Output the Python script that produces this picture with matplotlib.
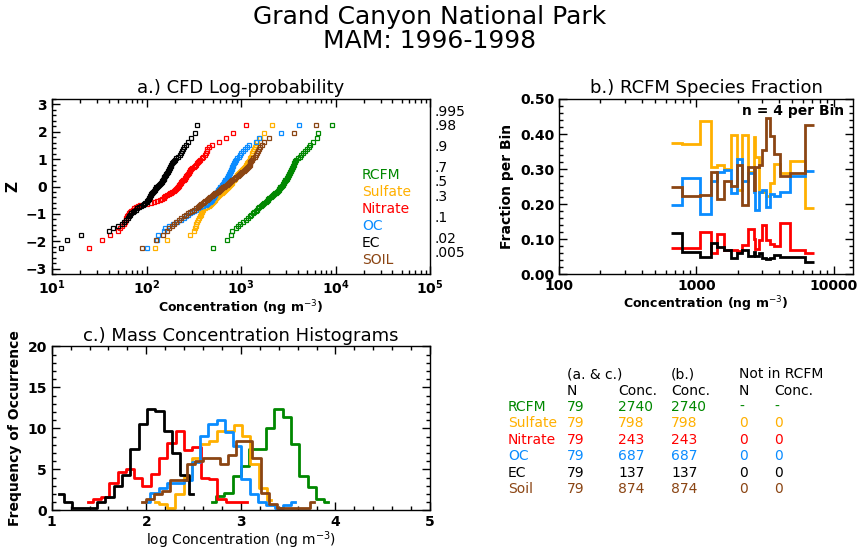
import matplotlib
matplotlib.use('Agg')
import matplotlib.pyplot as plt
import numpy as np
from statistics import NormalDist

plt.rcParams['font.family'] = ['DejaVu Sans']

species = ['RCFM', 'Sulfate', 'Nitrate', 'OC', 'EC', 'SOIL']
colors = {'RCFM': '#008800', 'Sulfate': '#FFB000', 'Nitrate': '#FF0000',
          'OC': '#0A8CFF', 'EC': '#000000', 'SOIL': '#8B4513'}

# ---- a.) sorted log10 concentrations (ng m-3), 79 samples each
log_rcfm = [2.70, 2.85, 2.89, 2.91, 2.95, 2.97, 2.99, 3.02, 3.05, 3.07, 3.09, 3.11, 3.125, 3.14,
            3.155, 3.17, 3.18, 3.195, 3.21, 3.22, 3.23, 3.245, 3.26, 3.27, 3.285, 3.29, 3.30,
            3.315, 3.33, 3.34, 3.35, 3.36, 3.37, 3.38, 3.39, 3.40, 3.405, 3.41, 3.415, 3.42,
            3.43, 3.44, 3.445, 3.45, 3.46, 3.465, 3.47, 3.48, 3.485, 3.49, 3.495, 3.50, 3.505,
            3.51, 3.515, 3.52, 3.525, 3.53, 3.535, 3.54, 3.55, 3.555, 3.56, 3.565, 3.57, 3.575,
            3.58, 3.60, 3.62, 3.64, 3.66, 3.68, 3.70, 3.72, 3.73, 3.76, 3.80, 3.82, 3.96]
log_sulfate = [2.085, 2.22, 2.46, 2.505, 2.51, 2.52, 2.525, 2.53, 2.54, 2.56, 2.57, 2.575, 2.58,
               2.585, 2.59, 2.60, 2.62, 2.64, 2.66, 2.67, 2.68, 2.69, 2.70, 2.71, 2.72, 2.73,
               2.74, 2.75, 2.76, 2.77, 2.78, 2.79, 2.80, 2.81, 2.82, 2.83, 2.84, 2.85, 2.86,
               2.865, 2.87, 2.88, 2.89, 2.90, 2.905, 2.91, 2.92, 2.93, 2.935, 2.94, 2.95, 2.955,
               2.96, 2.97, 2.98, 2.99, 3.00, 3.01, 3.02, 3.03, 3.04, 3.05, 3.055, 3.06, 3.07,
               3.08, 3.09, 3.10, 3.11, 3.115, 3.12, 3.13, 3.14, 3.15, 3.16, 3.17, 3.20, 3.24, 3.33]
log_nitrate = [1.39, 1.525, 1.61, 1.70, 1.72, 1.74, 1.76, 1.77, 1.78, 1.785, 1.79, 1.80, 1.82,
               1.83, 1.84, 1.855, 1.87, 1.89, 1.91, 1.93, 2.00, 2.05, 2.08, 2.11, 2.14, 2.16,
               2.18, 2.19, 2.20, 2.22, 2.24, 2.25, 2.26, 2.27, 2.29, 2.30, 2.31, 2.32, 2.33,
               2.335, 2.34, 2.345, 2.35, 2.36, 2.37, 2.38, 2.39, 2.40, 2.405, 2.41, 2.415, 2.42,
               2.43, 2.44, 2.445, 2.45, 2.46, 2.465, 2.475, 2.485, 2.50, 2.51, 2.52, 2.535, 2.55,
               2.56, 2.57, 2.585, 2.60, 2.615, 2.625, 2.635, 2.645, 2.66, 2.69, 2.77, 2.84, 2.92, 3.05]
log_oc = [2.00, 2.11, 2.12, 2.18, 2.20, 2.24, 2.28, 2.32, 2.36, 2.40, 2.42, 2.44, 2.46, 2.48,
          2.50, 2.52, 2.54, 2.57, 2.60, 2.63, 2.64, 2.655, 2.67, 2.68, 2.69, 2.695, 2.70, 2.71,
          2.715, 2.72, 2.73, 2.735, 2.74, 2.75, 2.755, 2.76, 2.77, 2.775, 2.78, 2.79, 2.795,
          2.80, 2.81, 2.815, 2.82, 2.83, 2.835, 2.84, 2.85, 2.855, 2.86, 2.865, 2.87, 2.875,
          2.88, 2.885, 2.89, 2.895, 2.90, 2.905, 2.91, 2.915, 2.92, 2.93, 2.935, 2.94, 2.95,
          2.96, 2.975, 2.99, 3.00, 3.02, 3.04, 3.06, 3.08, 3.16, 3.19, 3.42, 3.61]
log_ec = [1.10, 1.16, 1.31, 1.60, 1.65, 1.70, 1.74, 1.76, 1.78, 1.80, 1.815, 1.83, 1.84, 1.855,
          1.87, 1.885, 1.90, 1.92, 1.94, 1.96, 1.97, 1.985, 2.00, 2.01, 2.02, 2.025, 2.03, 2.035,
          2.04, 2.045, 2.05, 2.055, 2.06, 2.065, 2.075, 2.085, 2.09, 2.10, 2.105, 2.11, 2.12,
          2.13, 2.14, 2.15, 2.16, 2.165, 2.17, 2.175, 2.18, 2.185, 2.19, 2.20, 2.205, 2.21, 2.22,
          2.225, 2.23, 2.235, 2.24, 2.245, 2.25, 2.255, 2.26, 2.27, 2.28, 2.29, 2.30, 2.31, 2.33,
          2.35, 2.36, 2.38, 2.39, 2.40, 2.42, 2.44, 2.47, 2.51, 2.53]
log_soil = [1.95, 2.10, 2.17, 2.22, 2.24, 2.27, 2.29, 2.31, 2.34, 2.37, 2.40, 2.42, 2.44, 2.46,
            2.48, 2.50, 2.52, 2.54, 2.555, 2.57, 2.58, 2.595, 2.61, 2.62, 2.635, 2.65, 2.66,
            2.675, 2.69, 2.70, 2.715, 2.73, 2.74, 2.755, 2.77, 2.78, 2.79, 2.80, 2.81, 2.825,
            2.835, 2.85, 2.86, 2.87, 2.88, 2.89, 2.90, 2.91, 2.925, 2.94, 2.95, 2.965, 2.975,
            2.99, 3.00, 3.015, 3.03, 3.04, 3.05, 3.06, 3.07, 3.08, 3.09, 3.095, 3.10, 3.11, 3.12,
            3.13, 3.145, 3.16, 3.17, 3.18, 3.19, 3.20, 3.22, 3.24, 3.30, 3.56, 3.79]
cfd_logs = {'RCFM': log_rcfm, 'Sulfate': log_sulfate, 'Nitrate': log_nitrate,
            'OC': log_oc, 'EC': log_ec, 'SOIL': log_soil}

prob_labels = ['.995', '.98', '.9', '.7', '.5', '.3', '.1', '.02', '.005']
prob_values = [0.995, 0.98, 0.9, 0.7, 0.5, 0.3, 0.1, 0.02, 0.005]

# ---- b.) species fraction of RCFM, n = 4 per bin
frac_edges = [654, 782, 1059, 1279, 1422, 1592, 1782, 1971, 2145, 2372, 2607, 2682, 2837,
              3000, 3226, 3411, 3650, 4037, 4833, 6210, 7140]
frac_sulfate = [0.374, 0.371, 0.438, 0.306, 0.313, 0.301, 0.398, 0.240, 0.398, 0.292, 0.391,
                0.334, 0.235, 0.235, 0.223, 0.260, 0.316, 0.289, 0.323, 0.190]
frac_oc = [0.199, 0.275, 0.172, 0.266, 0.292, 0.298, 0.233, 0.330, 0.266, 0.290, 0.235,
           0.185, 0.236, 0.240, 0.193, 0.229, 0.225, 0.236, 0.280, 0.296]
frac_soil = [0.249, 0.223, 0.226, 0.292, 0.214, 0.266, 0.251, 0.313, 0.197, 0.306, 0.240,
             0.305, 0.311, 0.355, 0.446, 0.396, 0.344, 0.282, 0.289, 0.427]
frac_nitrate = [0.076, 0.076, 0.122, 0.060, 0.114, 0.071, 0.071, 0.067, 0.084, 0.129, 0.101,
                0.074, 0.098, 0.142, 0.098, 0.086, 0.081, 0.147, 0.071, 0.060]
frac_ec = [0.117, 0.065, 0.050, 0.090, 0.079, 0.070, 0.046, 0.060, 0.070, 0.053, 0.065,
           0.053, 0.060, 0.046, 0.043, 0.046, 0.055, 0.050, 0.049, 0.035]

# ---- c.) histograms of log concentration: first bin centre, bin width, counts
hist_start = {'RCFM': 2.693, 'Sulfate': 2.087, 'Nitrate': 1.388, 'OC': 2.000, 'EC': 1.081, 'SOIL': 1.950}
hist_width = {'RCFM': 0.088, 'Sulfate': 0.088, 'Nitrate': 0.088, 'OC': 0.0875, 'EC': 0.0881, 'SOIL': 0.0868}
hist_counts = {
    'RCFM': [1.0, 1.74, 2.07, 4.18, 5.44, 7.43, 7.43, 10.08, 12.35, 11.4, 8.08, 4.18, 2.8, 1.37, 1.0],
    'Sulfate': [1.0, 0.73, 0.32, 1.99, 4.1, 6.4, 8.1, 8.4, 9.7, 9.7, 10.4, 9.1, 5.6, 2.76, 1.2],
    'Nitrate': [1.0, 1.38, 1.66, 3.37, 4.7, 5.05, 4.0, 3.0, 4.4, 6.4, 8.2, 9.7, 7.4, 7.75, 4.0,
                3.8, 1.37, 1.0, 1.0, 1.0],
    'OC': [0.97, 2.07, 2.76, 3.37, 3.37, 3.7, 5.9, 9.1, 10.5, 11.0, 9.5, 7.8, 3.77, 1.99, 0.97,
           0.65, 0.32, 0.65, 1.06],
    'EC': [2.0, 1.0, 0.32, 0.32, 0.32, 1.0, 1.66, 3.0, 4.3, 7.44, 10.5, 12.35, 12.15, 9.7, 7.03,
           4.3, 2.0],
    'SOIL': [1.0, 1.38, 1.95, 2.36, 3.7, 3.7, 5.7, 6.05, 6.4, 6.4, 5.6, 6.75, 8.4, 8.4, 6.4, 2.07,
             0.73, 0.32, 0.32, 0.32, 0.32, 1.0],
}

# ---- summary table
table_names = ['RCFM', 'Sulfate', 'Nitrate', 'OC', 'EC', 'Soil']
table_n = ['79', '79', '79', '79', '79', '79']
table_conc_ac = ['2740', '798', '243', '687', '137', '874']
table_conc_b = ['2740', '798', '243', '687', '137', '874']
table_not_n = ['-', '0', '0', '0', '0', '0']
table_not_conc = ['-', '0', '0', '0', '0', '0']

W, H = 860, 550
fig = plt.figure(figsize=(W / 100, H / 100), dpi=100)


def box(x0, y0, x1, y1):
    return [x0 / W, 1 - y1 / H, (x1 - x0) / W, (y1 - y0) / H]


def style(ax):
    ax.tick_params(which='both', direction='in', top=True, right=True, labelsize=10)
    ax.tick_params(which='major', length=6, width=1)
    ax.tick_params(which='minor', length=3, width=1)
    for lab in ax.get_xticklabels() + ax.get_yticklabels():
        lab.set_fontweight('bold')
    for s in ax.spines.values():
        s.set_linewidth(1)


fig.text(0.5, 1 - 17 / H, 'Grand Canyon National Park', ha='center', va='center', fontsize=18)
fig.text(0.5, 1 - 41 / H, 'MAM: 1996-1998', ha='center', va='center', fontsize=18)

# ---------------- panel a
axa = fig.add_axes(box(52, 99, 430, 274))
nd = NormalDist()
for sp in species:
    conc = 10 ** np.array(cfd_logs[sp])
    n = len(conc)
    z = [nd.inv_cdf((i + 1) / (n + 1)) for i in range(n)]
    axa.plot(conc, z, ls='none', marker='s', ms=3.2, mfc='none', mew=0.9, color=colors[sp])
axa.set_xscale('log')
axa.set_xlim(10, 1e5)
axa.set_ylim(-3.2, 3.2)
axa.set_yticks([-3, -2, -1, 0, 1, 2, 3])
axa.yaxis.set_minor_locator(matplotlib.ticker.MultipleLocator(0.2))
style(axa)
axa.tick_params(which='both', right=False)
axa.set_xlabel('Concentration (ng m$^{-3}$)', fontsize=9, fontweight='bold', labelpad=1)
axa.set_ylabel('Z', fontsize=11, fontweight='bold', labelpad=4)
axa.set_title('a.) CFD Log-probability', fontsize=13, pad=4)
for lab, p in zip(prob_labels, prob_values):
    axa.text(1.012, nd.inv_cdf(p), lab, transform=axa.get_yaxis_transform(),
             fontsize=10, va='baseline', ha='left')
for i, sp in enumerate(species):
    axa.text((362 - 52) / 378, 1 - (175 + 17 * i - 99) / 175, sp,
             transform=axa.transAxes, color=colors[sp], fontsize=10, va='center', ha='left')

# ---------------- panel b
axb = fig.add_axes(box(559, 99, 853, 274.5))
for vals, sp in [(frac_sulfate, 'Sulfate'), (frac_oc, 'OC'), (frac_nitrate, 'Nitrate'),
                 (frac_ec, 'EC'), (frac_soil, 'SOIL')]:
    axb.stairs(vals, frac_edges, baseline=None, color=colors[sp], lw=2)
axb.set_xscale('log')
axb.set_xlim(100, 13800)
axb.set_ylim(0, 0.5)
axb.set_xticks([100, 1000, 10000])
axb.set_xticklabels(['100', '1000', '10000'])
axb.yaxis.set_major_locator(matplotlib.ticker.MultipleLocator(0.1))
axb.yaxis.set_minor_locator(matplotlib.ticker.MultipleLocator(0.02))
axb.yaxis.set_major_formatter(matplotlib.ticker.FormatStrFormatter('%.2f'))
style(axb)
axb.set_xlabel('Concentration (ng m$^{-3}$)', fontsize=9, fontweight='bold', labelpad=1)
axb.set_ylabel('Fraction per Bin', fontsize=10, fontweight='bold', labelpad=4)
axb.set_title('b.) RCFM Species Fraction', fontsize=13, pad=4)
axb.text(0.97, 0.93, 'n = 4 per Bin', transform=axb.transAxes, ha='right', va='center',
         fontsize=10, fontweight='bold')

# ---------------- panel c
axc = fig.add_axes(box(51.7, 346.3, 430, 510.3))
for sp in ['RCFM', 'Sulfate', 'Nitrate', 'OC', 'EC', 'SOIL']:
    counts = hist_counts[sp]
    centers = hist_start[sp] + hist_width[sp] * np.arange(len(counts))
    axc.step(centers, counts, where='mid', color=colors[sp], lw=2)
axc.set_xlim(1, 5)
axc.set_ylim(0, 20)
axc.set_xticks([1, 2, 3, 4, 5])
axc.set_yticks([0, 5, 10, 15, 20])
axc.xaxis.set_minor_locator(matplotlib.ticker.MultipleLocator(0.2))
axc.yaxis.set_minor_locator(matplotlib.ticker.MultipleLocator(1))
style(axc)
axc.set_xlabel('log Concentration (ng m$^{-3}$)', fontsize=10, labelpad=0)
axc.set_ylabel('Frequency of Occurrence', fontsize=10, fontweight='bold', labelpad=4)
axc.set_title('c.) Mass Concentration Histograms', fontsize=13, pad=4)

# ---------------- table
tcol = [508, 567, 618, 671, 739, 774]
fig.text(567 / W, 1 - 374 / H, '(a. & c.)', fontsize=10, va='center')
fig.text(671 / W, 1 - 374 / H, '(b.)', fontsize=10, va='center')
fig.text(739 / W, 1 - 374 / H, 'Not in RCFM', fontsize=10, va='center')
for x, t in zip(tcol[1:], ['N', 'Conc.', 'Conc.', 'N', 'Conc.']):
    fig.text(x / W, 1 - 390.7 / H, t, fontsize=10, va='center')
for i, name in enumerate(table_names):
    y = 1 - (406.7 + 16.5 * i) / H
    col = colors[species[i]]
    row = [name, table_n[i], table_conc_ac[i], table_conc_b[i], table_not_n[i], table_not_conc[i]]
    for x, t in zip(tcol, row):
        fig.text(x / W, y, t, fontsize=10, va='center', color=col)

fig.savefig('out.png', dpi=100)
